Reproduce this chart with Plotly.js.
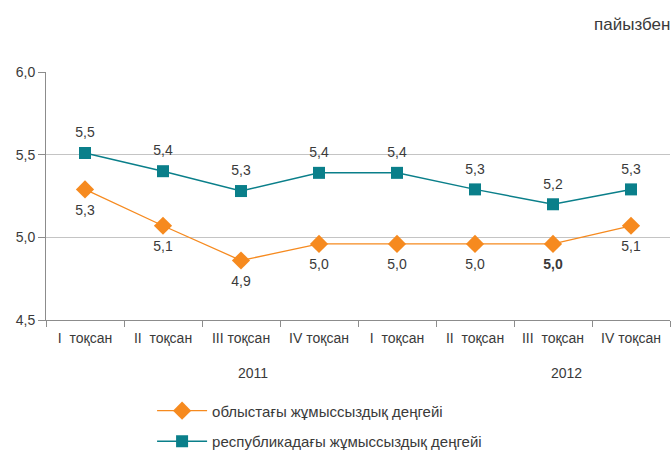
<!DOCTYPE html>
<html>
<head>
<meta charset="utf-8">
<script src="https://cdn.plot.ly/plotly-3.0.1.min.js"></script>
<style>
  html, body { margin: 0; padding: 0; background: #ffffff; }
  #chart { width: 672px; height: 451px; }
</style>
</head>
<body>
<div id="chart"></div>
<script>
// Quarter labels (2011 and 2012)
const quarterLabels = [
  "I\u00a0\u00a0тоқсан", "II\u00a0\u00a0тоқсан", "III тоқсан", "IV тоқсан",
  "I\u00a0\u00a0тоқсан", "II\u00a0\u00a0тоқсан", "III\u00a0\u00a0тоқсан", "IV тоқсан"
];
const years = ["2011", "2012"];

// Unemployment rate, %
const regionRate   = [5.29, 5.07, 4.86, 4.96, 4.96, 4.96, 4.96, 5.07];
const republicRate = [5.51, 5.40, 5.28, 5.39, 5.39, 5.29, 5.20, 5.29];

const seriesNames = [
  "облыстағы жұмыссыздық деңгейі",
  "республикадағы жұмыссыздық деңгейі"
];
const unitLabel = "пайызбен";

const xIdx = quarterLabels.map((_, i) => i);
const FONT = "Liberation Sans, Arial, sans-serif";
const TEXT = "#3a3a3a";
const ORANGE = "#f68a1f";
const TEAL = "#0a7f8a";

// The 2012 Q3 regional value label is set in bold
const regionTemplates = regionRate.map((_, i) => i === 6 ? "<b>%{y:.1f}</b>" : "%{y:.1f}");

const traces = [
  // lines with markers
  {
    x: xIdx, y: regionRate, name: seriesNames[0],
    type: "scatter", mode: "lines+markers",
    line: { color: ORANGE, width: 1.3 },
    marker: { symbol: "diamond", size: 14, color: ORANGE },
    legendgroup: "a", cliponaxis: false
  },
  {
    x: xIdx, y: republicRate, name: seriesNames[1],
    type: "scatter", mode: "lines+markers",
    line: { color: TEAL, width: 1.5 },
    marker: { symbol: "square", size: 12, color: TEAL },
    legendgroup: "b", cliponaxis: false
  },
  // value labels; the transparent markers set the label gap
  {
    x: xIdx, y: regionRate, type: "scatter", mode: "markers+text",
    marker: { size: 22, opacity: 0 },
    texttemplate: regionTemplates, textposition: "bottom center",
    textfont: { family: FONT, size: 14, color: TEXT },
    showlegend: false, hoverinfo: "skip", cliponaxis: false
  },
  {
    x: xIdx, y: republicRate, type: "scatter", mode: "markers+text",
    marker: { size: 18, opacity: 0 },
    texttemplate: "%{y:.1f}", textposition: "top center",
    textfont: { family: FONT, size: 14, color: TEXT },
    showlegend: false, hoverinfo: "skip", cliponaxis: false
  }
];

const layout = {
  width: 672, height: 451,
  margin: { l: 46, r: 2, t: 72, b: 131, autoexpand: false },
  paper_bgcolor: "#ffffff", plot_bgcolor: "#ffffff",
  separators: ", ",
  font: { family: FONT, size: 14, color: TEXT },
  showlegend: true,
  legend: {
    x: 0.17, y: -0.3, xanchor: "left", yanchor: "top",
    traceorder: "grouped", tracegroupgap: 8, itemwidth: 50,
    font: { family: FONT, size: 15, color: TEXT },
    bgcolor: "rgba(0,0,0,0)"
  },
  xaxis: {
    range: [-0.5, 7.5],
    tickmode: "array", tickvals: xIdx, ticktext: quarterLabels,
    ticks: "", showgrid: false, zeroline: false,
    ticklabelstandoff: 5,
    showline: true, linecolor: "#8c8c8c", linewidth: 1,
    tickfont: { family: FONT, size: 14, color: TEXT },
    minor: { tick0: -0.5, dtick: 1, ticks: "outside", ticklen: 6, tickcolor: "#8c8c8c", showgrid: false },
    automargin: false, fixedrange: true
  },
  yaxis: {
    range: [4.5, 6.0], dtick: 0.5, tick0: 4.5, tickformat: ".1f",
    ticks: "outside", ticklen: 7, tickcolor: "#8c8c8c",
    showline: true, linecolor: "#8c8c8c", linewidth: 1,
    showgrid: true, gridcolor: "#c4c4c4", gridwidth: 1,
    zeroline: false,
    tickfont: { family: FONT, size: 14, color: TEXT },
    automargin: false, fixedrange: true
  },
  annotations: [
    { text: years[0], xref: "x", yref: "paper", x: 2.15, y: -0.214,
      xanchor: "center", yanchor: "middle", showarrow: false,
      font: { family: FONT, size: 14, color: TEXT } },
    { text: years[1], xref: "x", yref: "paper", x: 6.17, y: -0.214,
      xanchor: "center", yanchor: "middle", showarrow: false,
      font: { family: FONT, size: 14, color: TEXT } },
    { text: unitLabel, xref: "paper", yref: "paper", x: 1.003, y: 1.19,
      xanchor: "right", yanchor: "middle", showarrow: false,
      font: { family: FONT, size: 17, color: TEXT } }
  ]
};

Plotly.newPlot("chart", traces, layout, { displayModeBar: false, staticPlot: true });
</script>
</body>
</html>
